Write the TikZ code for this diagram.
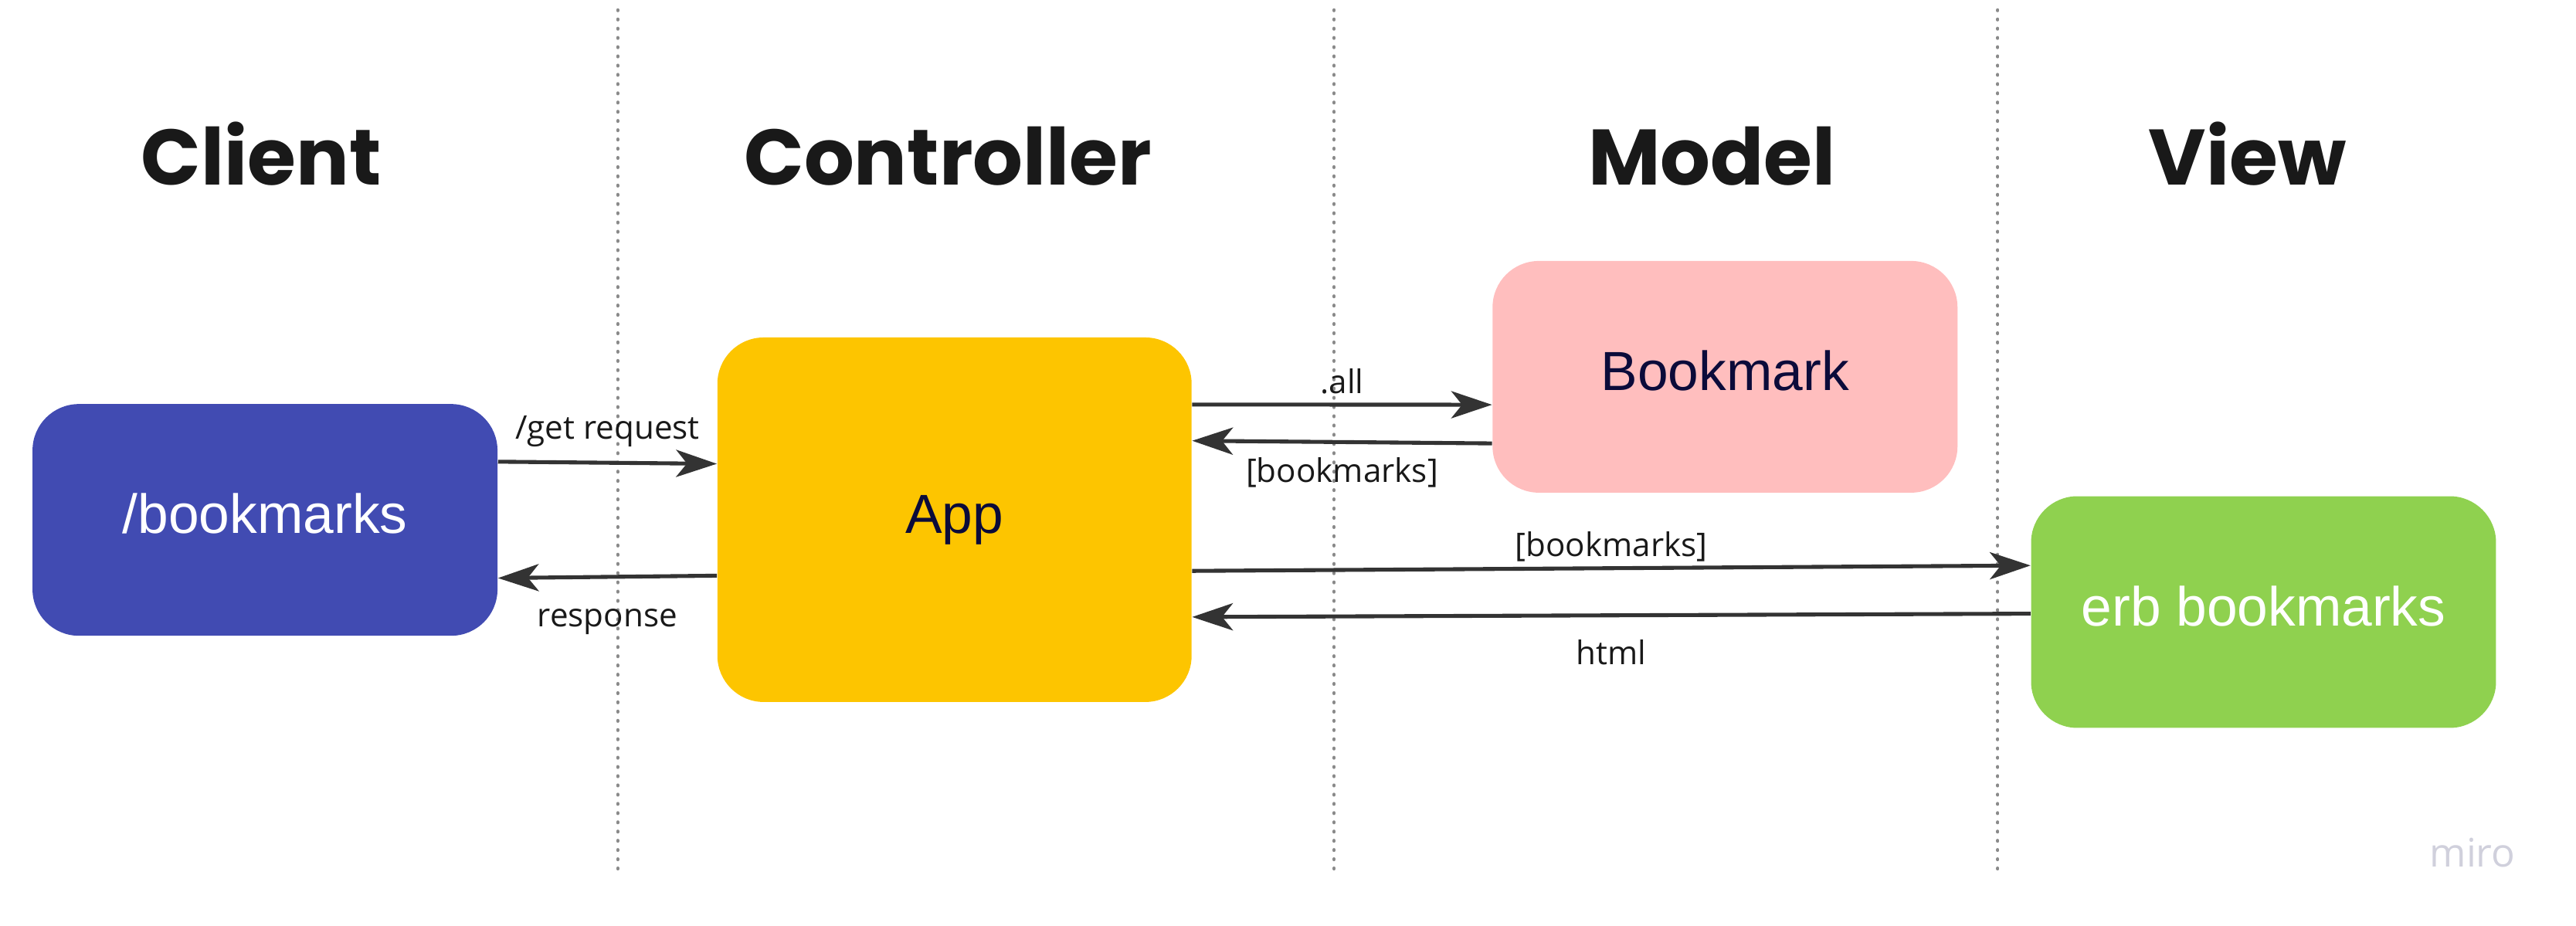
\documentclass[tikz,border=0pt]{standalone}
\usepackage{fontspec}
\setmainfont{Liberation Sans}
\newfontfamily\titlefont{Poppins}
\newfontfamily\labelfont{Open Sans}
\usetikzlibrary{arrows.meta,calc}
\definecolor{clientblue}{HTML}{414BB2}
\definecolor{appyellow}{HTML}{FDC500}
\definecolor{modelpink}{HTML}{FFBEBE}
\definecolor{modeltext}{HTML}{0B0B3A}
\definecolor{viewgreen}{HTML}{8FD14F}
\definecolor{arrowgray}{HTML}{333333}
\definecolor{lanegray}{HTML}{8A8A8A}
\definecolor{mirogray}{HTML}{D0D0DC}

\begin{document}
\begin{tikzpicture}[x=0.021269cm,y=-0.021269cm,
    box/.style={rounded corners=0.6cm,minimum width=6.02cm,minimum height=3cm,inner sep=0pt,
        text height=15.2pt,text depth=5.1pt,font=\fontsize{20.3}{24}\selectfont},
    title/.style={anchor=base,font=\titlefont\bfseries\fontsize{29}{35}\selectfont,text=black!90},
    msg/.style={-{Stealth[length=15pt,width=10pt,inset=4pt]},line width=1.45pt,draw=arrowgray},
    lbl/.style={inner sep=0pt,text height=9pt,text depth=3pt,font=\labelfont\fontsize{12}{14}\selectfont,text=black!90},
    lane/.style={lanegray,line width=1.15pt,line cap=round,dash pattern=on 0.3pt off 3.1pt}]
        \useasboundingbox(0,0)rectangle(1568,563.7);
        \foreach \x in {376,812,1216}
            \draw[lane](\x,6)--(\x,529);

        \node[title](tclient)at(159,112.5){Client};
        \node[title](tcontroller)at(577,112.5){Controller};
        \node[title](tmodel)at(1042,112.5){Model};
        \node[title](tview)at(1368,112.5){View};

        \node[box,fill=clientblue,text=white](client)at(161.3,316.5){/bookmarks};
        \node[box,fill=appyellow,text=modeltext,minimum width=6.14cm,minimum height=4.72cm](app)at(581,316.4){App};
        \node[box,fill=modelpink,text=modeltext](bookmark)at(1050,229.4){Bookmark};
        \node[box,fill=viewgreen,text=white](erb)at(1377.8,372.6){erb bookmarks};

        \draw[msg]($(client.north east)!0.25!(client.south east)$)--node[lbl,above=5pt]{/get request}($(app.north west)!0.347!(app.south west)$);
        \draw[msg]($(app.north west)!0.653!(app.south west)$)--node[lbl,below=8.5pt]{response}($(client.north east)!0.75!(client.south east)$);
        \draw[msg]($(app.north east)!0.185!(app.south east)$)--node[lbl,above=0.3pt]{.all}($(bookmark.north west)!0.62!(bookmark.south west)$);
        \draw[msg]($(bookmark.north west)!0.786!(bookmark.south west)$)--node[lbl,below=5.2pt]{[bookmarks]}($(app.north east)!0.284!(app.south east)$);
        \draw[msg]($(app.north east)!0.64!(app.south east)$)--node[lbl,above=0.7pt]{[bookmarks]}($(erb.north west)!0.3!(erb.south west)$);
        \draw[msg]($(erb.north west)!0.507!(erb.south west)$)--node[lbl,below=8.3pt]{html}($(app.north east)!0.766!(app.south east)$);

        \node[font=\labelfont\fontsize{14.5}{17}\selectfont,text=mirogray](miro)at(1505,519){miro};
    \end{tikzpicture}
\end{document}
